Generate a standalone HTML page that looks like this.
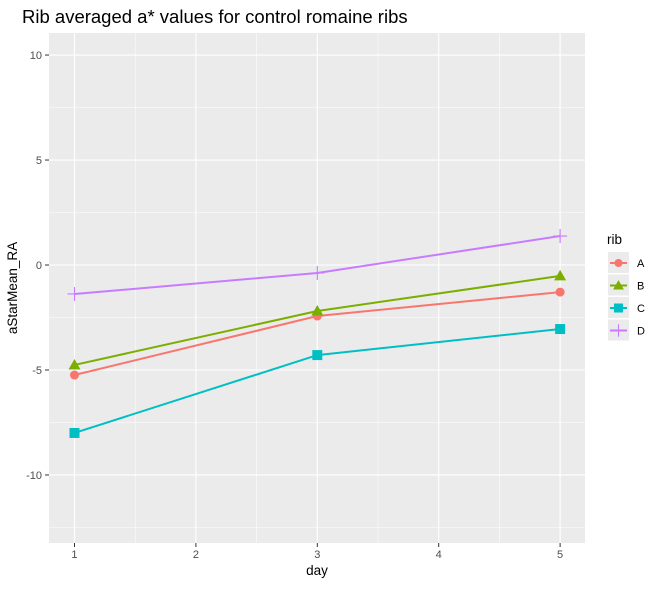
<!DOCTYPE html>
<html><head><meta charset="utf-8"><style>
body{margin:0;background:#fff;font-family:"Liberation Sans",Arial,sans-serif}
</style></head><body>
<svg id="chart" width="661" height="584" xmlns="http://www.w3.org/2000/svg"></svg>
<script>
const days=[1,3,5];
const seriesNames=["A","B","C","D"];
const valuesA=[-5.24,-2.43,-1.29];
const valuesB=[-4.76,-2.19,-0.52];
const valuesC=[-8.0,-4.29,-3.05];
const valuesD=[-1.38,-0.38,1.38];
const yTicks=[-10,-5,0,5,10];
const xTicks=[1,2,3,4,5];

const svg=document.getElementById('chart');
const NS='http://www.w3.org/2000/svg';
const L=49,R=585,T=33,B=543;
const xMin=0.79,xMax=5.205,yMin=-13.24,yMax=11.05;
function sx(v){return L+(v-xMin)/(xMax-xMin)*(R-L);}
function sy(v){return B-(v-yMin)/(yMax-yMin)*(B-T);}
function mk(tag,attrs,parent){const e=document.createElementNS(NS,tag);for(const k in attrs)e.setAttribute(k,attrs[k]);(parent||svg).appendChild(e);return e;}

let e=mk('rect',{x:L,y:T,width:R-L,height:B-T,fill:'#EBEBEB'});


for(let i=0;i<xTicks.length-1;i++){const v=(xTicks[i]+xTicks[i+1])/2;mk('line',{x1:sx(v),x2:sx(v),y1:T,y2:B,stroke:'#fff','stroke-width':0.55});}
for(let v=-12.5;v<=10;v+=5){mk('line',{x1:L,x2:R,y1:sy(v),y2:sy(v),stroke:'#fff','stroke-width':0.55});}
yTicks.forEach(v=>{
  mk('line',{x1:L,x2:R,y1:sy(v),y2:sy(v),stroke:'#fff','stroke-width':1.1});
  mk('line',{x1:L-4,x2:L,y1:sy(v),y2:sy(v),stroke:'#333','stroke-width':1});
  const t=mk('text',{x:L-7,y:sy(v)+4,'text-anchor':'end','font-size':11,fill:'#4D4D4D'});t.textContent=v;
  
  
});
xTicks.forEach(v=>{
  mk('line',{x1:sx(v),x2:sx(v),y1:T,y2:B,stroke:'#fff','stroke-width':1.1});
  mk('line',{x1:sx(v),x2:sx(v),y1:B,y2:B+4,stroke:'#333','stroke-width':1});
  const t=mk('text',{x:sx(v),y:B+15,'text-anchor':'middle','font-size':11,fill:'#4D4D4D'});t.textContent=v;
  
  
});
const colors=['#F8766D','#7CAE00','#00BFC4','#C77CFF'];
const allVals=[valuesA,valuesB,valuesC,valuesD];
function marker(i,x,y,g,s){
  const c=colors[i];s=s||1;
  if(i===0)return mk('circle',{cx:x,cy:y,r:4.5*s,fill:c},g);
  if(i===1)return mk('polygon',{points:`${x},${y-6*s} ${x+6*s},${y+4.5*s} ${x-6*s},${y+4.5*s}`,fill:c},g);
  if(i===2)return mk('rect',{x:x-5*s,y:y-5*s,width:10*s,height:10*s,fill:c},g);
  return mk('path',{d:`M${x-7*s},${y}H${x+7*s}M${x},${y-7*s}V${y+7*s}`,stroke:c,'stroke-width':1.1,fill:'none'},g);
}
allVals.forEach((vals,i)=>{
  const g=mk('g',{});
  
  
  const pl=mk('polyline',{points:days.map((d,j)=>sx(d)+','+sy(vals[j])).join(' '),fill:'none',stroke:colors[i],'stroke-width':2},g);
  
  
  days.forEach((d,j)=>{const m=marker(i,sx(d),sy(vals[j]),g);
    
    });
});
let t=mk('text',{x:22,y:23,'font-size':18.5,fill:'#000'});t.textContent='Rib averaged a* values for control romaine ribs';


t=mk('text',{x:(L+R)/2,y:575,'text-anchor':'middle','font-size':13.5,fill:'#000'});t.textContent='day';


t=mk('text',{x:17,y:(T+B)/2,'text-anchor':'middle','font-size':13.5,fill:'#000',transform:`rotate(-90 17 ${(T+B)/2})`});t.textContent='aStarMean_RA';


t=mk('text',{x:607,y:244,'font-size':13.5,fill:'#000'});t.textContent='rib';


seriesNames.forEach((n,i)=>{
  const y=263+i*22.5;
  const g=mk('g',{});
  
  
  mk('rect',{x:608,y:y-11,width:21,height:21,fill:'#EBEBEB'},g);
  mk('line',{x1:610,x2:627,y1:y,y2:y,stroke:colors[i],'stroke-width':2},g);
  marker(i,618.5,y,g,0.9);
  const tt=mk('text',{x:637,y:y+4,'font-size':11,fill:'#000'},g);tt.textContent=n;
});
</script>
</body></html>
